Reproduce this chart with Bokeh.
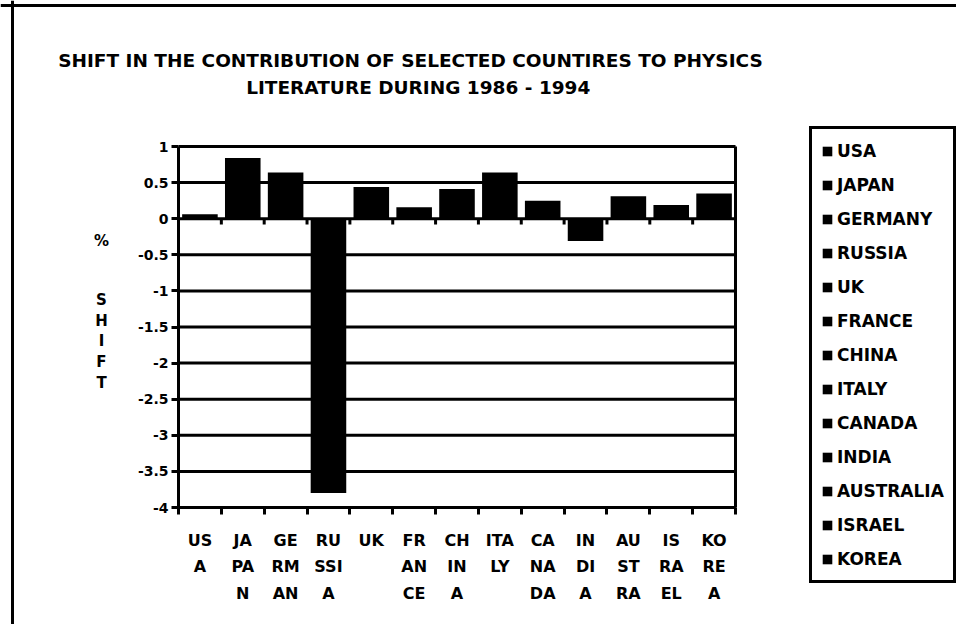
from bokeh.plotting import figure
from bokeh.models import (Range1d, FixedTicker, LinearAxis, Legend, LegendItem,
                          ColumnDataSource, Label, Span)
from bokeh.embed import file_html
from bokeh.resources import INLINE

# ---- data ----
countries = ["USA", "JAPAN", "GERMANY", "RUSSIA", "UK", "FRANCE", "CHINA", "ITALY",
             "CANADA", "INDIA", "AUSTRALIA", "ISRAEL", "KOREA"]
axis_labels = ["US\nA", "JA\nPA\nN", "GE\nRM\nAN", "RU\nSSI\nA", "UK", "FR\nAN\nCE",
               "CH\nIN\nA", "ITA\nLY", "CA\nNA\nDA", "IN\nDI\nA", "AU\nST\nRA",
               "IS\nRA\nEL", "KO\nRE\nA"]
shift = [0.06, 0.84, 0.64, -3.8, 0.44, 0.16, 0.41, 0.64, 0.25, -0.31, 0.31, 0.19, 0.35]
y_ticks = [1, 0.5, 0, -0.5, -1, -1.5, -2, -2.5, -3, -3.5, -4]
y_tick_labels = ["1", "0.5", "0", "-0.5", "-1", "-1.5", "-2", "-2.5", "-3", "-3.5", "-4"]
title_lines = ["SHIFT IN THE CONTRIBUTION OF SELECTED COUNTIRES TO PHYSICS",
               "LITERATURE  DURING 1986 - 1994"]
y_title_top = "%"
y_title_word = "SHIFT"

FONT = "DejaVu Sans"
W, H = 956, 624
# pixel box of the plot area inside the canvas (layout constants)
PL, PR, PT, PB = 178, 735, 146, 507

n = len(countries)
y_hi, y_lo = y_ticks[0], y_ticks[-1]
centers = [i + 0.5 for i in range(n)]
bounds = [float(i) for i in range(n + 1)]

# ranges chosen so that the whole canvas is the frame and the plot area sits at PL..PR, PT..PB
xs = (PR - PL) / n
ys = (PB - PT) / (y_hi - y_lo)
x_range = Range1d(-PL / xs, n + (W - PR) / xs)
y_range = Range1d(y_lo - (H - PB) / ys, y_hi + PT / ys)

p = figure(width=W, height=H, output_backend="svg", toolbar_location=None,
           x_range=x_range, y_range=y_range,
           min_border_left=0, min_border_right=0, min_border_top=0, min_border_bottom=0,
           x_axis_type=None, y_axis_type=None)
p.outline_line_color = None
p.background_fill_color = "white"
p.border_fill_color = "white"
p.xgrid.visible = False
p.ygrid.visible = False

# page frame (left and top edges of the scanned sheet)
p.add_layout(Span(location=12, location_units="screen", dimension="height",
                  line_color="black", line_width=3))
p.add_layout(Span(location=H - 5, location_units="screen", dimension="width",
                  line_color="black", line_width=3))

# horizontal grid lines across the plot area
p.segment(x0=[0] * len(y_ticks), y0=y_ticks, x1=[n] * len(y_ticks), y1=y_ticks,
          line_color="black", line_width=3)
# right border of the plot area
p.segment(x0=[n], y0=[y_lo], x1=[n], y1=[y_hi], line_color="black", line_width=3)

# y axis
yax = LinearAxis(ticker=FixedTicker(ticks=y_ticks, minor_ticks=[]),
                 fixed_location=0, bounds=(y_lo, y_hi),
                 major_label_overrides={float(k): v for k, v in zip(y_ticks, y_tick_labels)},
                 axis_line_width=3, axis_line_color="black",
                 major_tick_line_width=3, major_tick_out=7, major_tick_in=0,
                 minor_tick_line_color=None,
                 major_label_text_font=FONT, major_label_text_font_style="bold",
                 major_label_text_font_size="14px", major_label_text_color="black",
                 major_label_standoff=3)
p.add_layout(yax, "left")

# x axis (ticks at category boundaries, labels at centres)
xax = LinearAxis(ticker=FixedTicker(ticks=centers, minor_ticks=bounds),
                 fixed_location=y_lo, bounds=(0, n),
                 major_label_overrides={k: v for k, v in zip(centers, axis_labels)},
                 axis_line_width=3, axis_line_color="black",
                 major_tick_line_color=None, major_tick_out=0, major_tick_in=0,
                 minor_tick_line_width=3, minor_tick_out=7, minor_tick_in=0,
                 minor_tick_line_color="black",
                 major_label_text_font=FONT, major_label_text_font_style="bold",
                 major_label_text_font_size="16px", major_label_text_color="black",
                 major_label_text_line_height=1.4,
                 major_label_standoff=16)
p.add_layout(xax, "below")

# bars
src = ColumnDataSource(dict(x=centers, top=shift, country=countries))
bars = p.vbar(x="x", top="top", bottom=0, width=0.83, source=src,
              fill_color="black", line_color=None)

# tick marks under the zero line
p.segment(x0=bounds, y0=[0] * len(bounds), x1=bounds, y1=[-0.08] * len(bounds),
          line_color="black", line_width=3)

# legend
items = [LegendItem(label=c, renderers=[bars], index=i) for i, c in enumerate(countries)]
legend = Legend(items=items, location=(809, H - 583), margin=0, padding=9,
                border_line_color="black", border_line_width=3, border_line_alpha=1,
                background_fill_color="white", background_fill_alpha=1,
                label_text_font=FONT, label_text_font_style="bold",
                label_text_font_size="17px", label_text_color="black",
                glyph_width=12, glyph_height=12, label_standoff=4,
                label_height=25, spacing=9)
p.add_layout(legend)


def canvas_label(text, cx, cy, size, lh=1.2):
    return Label(x=cx, y=H - cy, x_units="screen", y_units="screen", text=text,
                 text_align="center", text_baseline="middle", text_font=FONT,
                 text_font_style="bold", text_font_size=size, text_color="black",
                 text_line_height=lh)


p.add_layout(canvas_label(title_lines[0], 410, 60, "18.5px"))
p.add_layout(canvas_label(title_lines[1], 421, 87, "18.5px"))
p.add_layout(canvas_label(y_title_top, 101, 240, "15px"))
p.add_layout(canvas_label("\n".join(y_title_word), 101, 341, "15px", lh=1.14))

open("out.html", "w").write(file_html(p, INLINE))
